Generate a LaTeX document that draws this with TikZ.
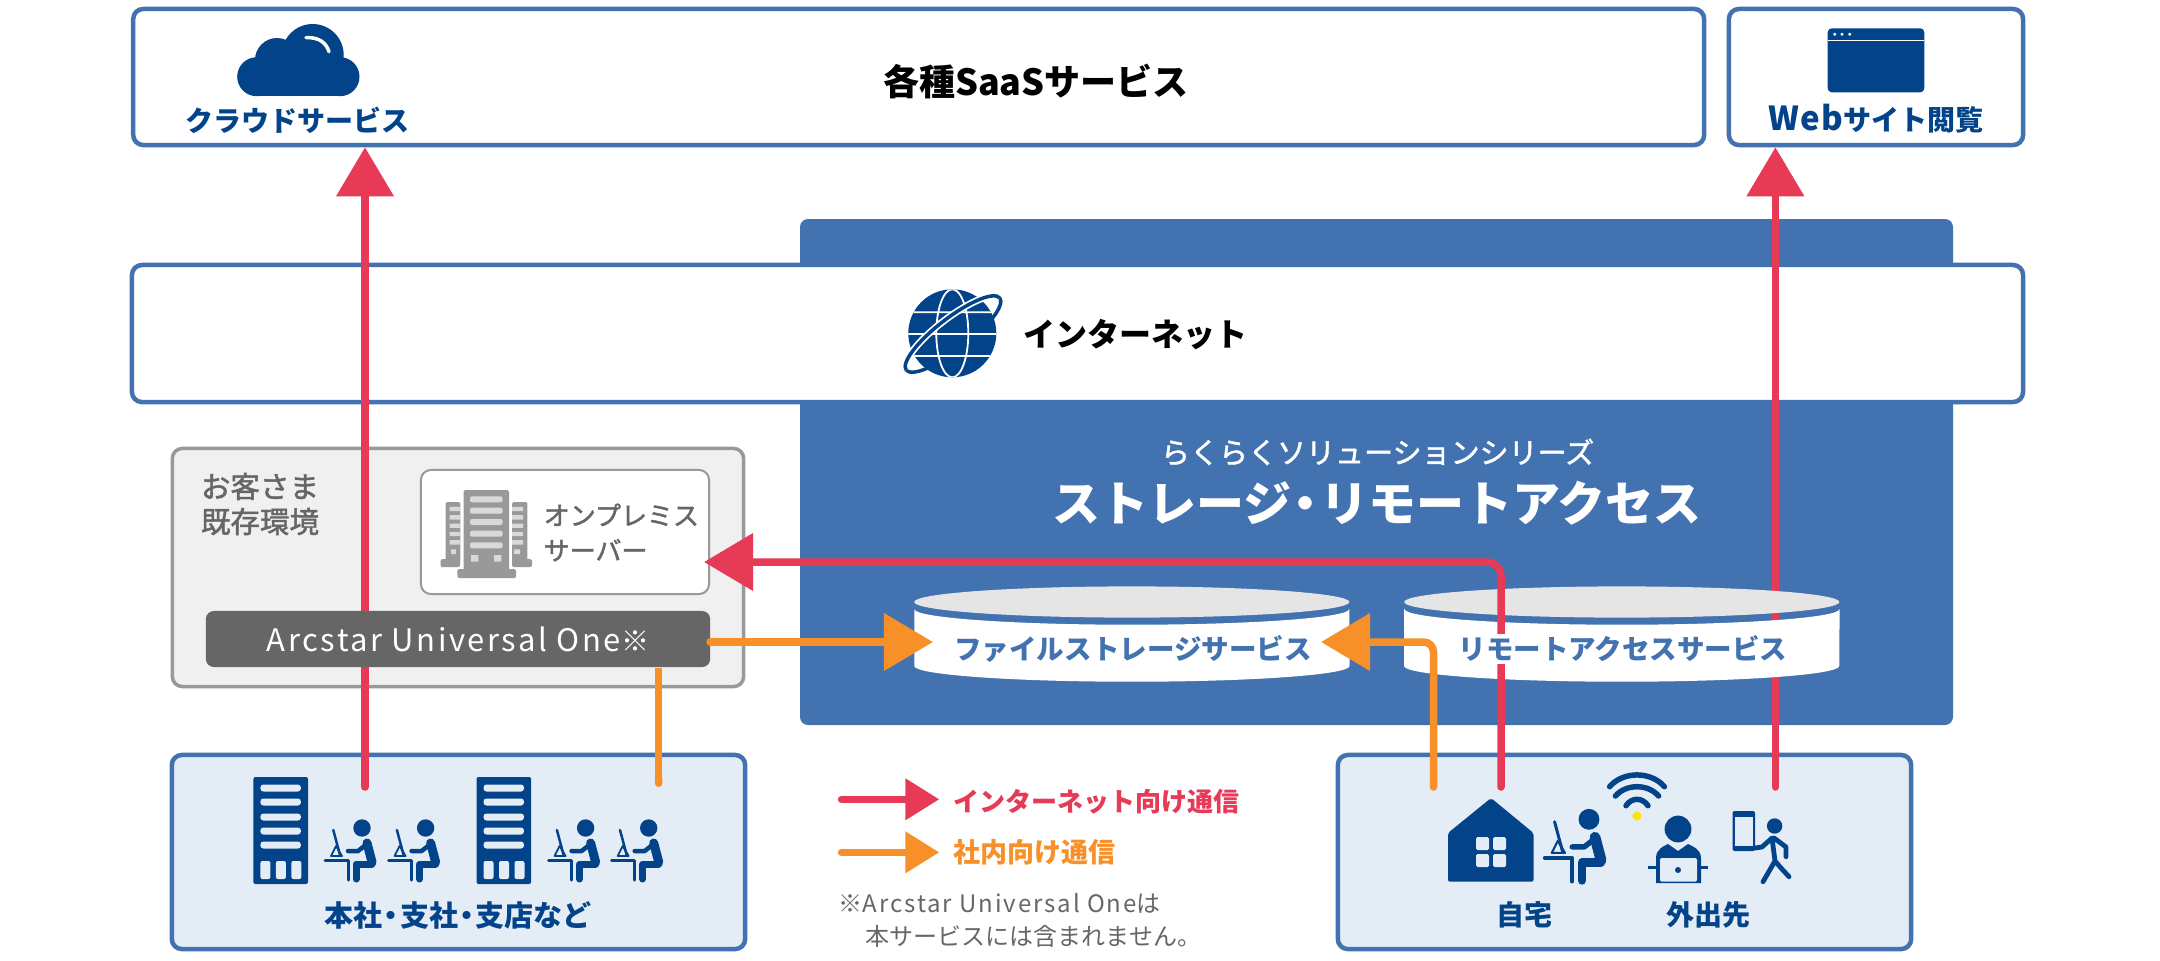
\documentclass[tikz,border=0pt]{standalone}
\usepackage{fontspec}
\usepackage{xcolor}
\usetikzlibrary{arrows.meta,positioning}
\setmainfont{Noto Sans CJK JP}
\newfontfamily\medfont[FakeBold=1.6]{Noto Sans CJK JP}
\definecolor{frameblue}{HTML}{4272AF}
\definecolor{iconnavy}{HTML}{03438A}
\definecolor{paleblue}{HTML}{E4ECF6}
\definecolor{netred}{HTML}{E63A57}
\definecolor{lanorange}{HTML}{F79028}
\definecolor{midgray}{HTML}{999999}
\definecolor{textgray}{HTML}{666666}
\newcommand{\pxfont}[1]{\fontsize{\fpeval{#1*0.2845}}{9.96}\selectfont}
\newcommand{\ndot}{\kern-.2em・\kern-.2em}
% person at a desk, head at #1,#2, size #3
\newcommand{\deskuser}[3]{%
\begin{scope}[shift={(#1,#2)},scale=#3,iconnavy,line cap=round,line join=round]
\fill (0,0) circle [radius=8.7];
\draw [line width=#3*0.09cm] (5,15) -- (10,34);
\draw [line width=#3*0.07cm] (10,36) -- (-6,36) -- (-6,51);
\draw [line width=#3*0.045cm] (5,16) -- (-4,23) -- (-14,23);
\draw [line width=#3*0.025cm] (-28.7,2) -- (-22,27);
\draw [line width=#3*0.018cm] (-26,18) -- (-31,28) -- (-20,28) -- cycle;
\draw [line width=#3*0.03cm] (-37,32) -- (-14,32) -- (-14,52);
\end{scope}}
% rack with drawers, left edge at #1
\newcommand{\serverrack}[1]{%
\begin{scope}[shift={(#1,0)}]
\fill [iconnavy,rounded corners=0.02cm] (0,777) rectangle (54.6,884);
\foreach \y in {788,802,817,831,845}
\fill [paleblue,rounded corners=0.03cm] (7,\y-3.5) rectangle (47.5,\y+3.5);
\foreach \x in {7,22.5,38}
\fill [paleblue,rounded corners=0.02cm] (\x,861) rectangle (\x+10,879);
\end{scope}}
% storage cylinder between #1 and #2
\newcommand{\storagecyl}[2]{%
\fill [white] (#1,609) -- (#1,666) arc [start angle=180,end angle=360,x radius=2.175cm,y radius=0.157cm]
-- (#2,609) arc [start angle=360,end angle=180,x radius=2.175cm,y radius=0.157cm] -- cycle;
\fill [black!10] ({(#1+#2)/2},602) ellipse [x radius=2.175cm,y radius=0.156cm];}
\tikzset{
bluebox/.style={draw=frameblue,line width=0.045cm,fill=white,rounded corners=0.1cm,inner sep=0pt},
homebox/.style={bluebox,fill=paleblue,minimum width=5.73cm,minimum height=1.94cm},
titletext/.style={font=\pxfont{28}\bfseries,text=iconnavy},
redline/.style={netred,line width=0.075cm,line cap=round,-{Triangle[length=0.49cm,width=0.56cm]}},
orangeline/.style={lanorange,line width=0.075cm,line cap=round,-{Triangle[length=0.49cm,width=0.56cm]}},
}
\begin{document}
\begin{tikzpicture}[x=0.01cm,y=-0.01cm,node distance=0.35cm]
\useasboundingbox (0,0) rectangle (2160,960);
% top row
\node [bluebox,minimum width=15.7cm,minimum height=1.36cm] (cloudbox) at (918.7,77) {};
\node [bluebox,minimum width=2.94cm,minimum height=1.36cm] (webbox) at (1876,77) {};
\node [font=\pxfont{36}\bfseries] (saas) at (1036,81) {各種SaaSサービス};
\fill [iconnavy] (312.7,55) circle [radius=31] (277,60) circle [radius=22] (256.7,76.7) circle [radius=19.5] (340,76.7) circle [radius=19.5];
\fill [iconnavy] (256.7,70) rectangle (340,96.2);
\draw [white,line width=0.035cm,line cap=round] (306,37.7) .. controls (318,37) and (326,42) .. (329,51.7);
\node [titletext] (cloudtext) at (297.5,120) {クラウドサービス};
\fill [iconnavy,rounded corners=0.04cm] (1827.7,28.3) rectangle (1924.3,92.3);
\draw [white,line width=0.015cm] (1827.7,40.3) -- (1924.3,40.3);
\fill [white] (1834.7,34.3) circle [radius=1.6] (1842,34.3) circle [radius=1.6] (1849.7,34.3) circle [radius=1.6];
\node [titletext] (webtext) at (1876,119) {{\pxfont{33}\addfontfeature{LetterSpace=3}Web}サイト閲覧};
% service block and internet band
\fill [frameblue,rounded corners=0.08cm] (800,219) rectangle (1953,725);
\node [bluebox,minimum width=18.9cm,minimum height=1.37cm] (netband) at (1077.5,333.5) {};
% customer side
\node [draw=midgray,line width=0.035cm,fill=black!6,rounded corners=0.1cm,minimum width=5.71cm,minimum height=2.38cm,inner sep=0pt] (existing) at (458,567.5) {};
\node [draw=midgray,line width=0.02cm,fill=white,rounded corners=0.1cm,minimum width=2.88cm,minimum height=1.24cm,inner sep=0pt] (onprem) at (565,532) {};
\node [homebox] (hqbox) at (458.5,852) {};
\node [homebox] (homebox) at (1624.5,852) {};
\coordinate (hqred) at (365,787);
\coordinate (hqorg) at (658.6,787);
\coordinate (homeorg) at (1433.5,787);
\coordinate (homered) at (1501,787);
\coordinate (outred) at (1775.4,787);
\path (hqred) edge [redline] (hqred |- cloudbox.south);
\path (outred) edge [redline] (outred |- webbox.south);
% internet icon
\begin{scope}[rotate around={37.6:(953,334)}]
\draw [iconnavy,line width=0.035cm] (953,334) ellipse [x radius=0.59cm,y radius=0.16cm];
\end{scope}
\fill [iconnavy] (952.3,333.3) circle [radius=44];
\begin{scope}
\clip (952.3,333.3) circle [radius=44];
\draw [white,line width=0.018cm] (900,312.3) -- (1000,312.3) (900,334) -- (1000,334) (900,356) -- (1000,356) (952.3,333.3) ellipse [x radius=0.16cm,y radius=0.44cm];
\end{scope}
\begin{scope}[rotate around={37.6:(953,334)}]
\draw [white,line width=0.07cm] (1012,334) arc [start angle=0,end angle=180,x radius=0.59cm,y radius=0.16cm];
\draw [iconnavy,line width=0.035cm] (1012,334) arc [start angle=0,end angle=180,x radius=0.59cm,y radius=0.16cm];
\end{scope}
\node [font=\pxfont{32}\bfseries] (nettext) at (1135.5,335) {インターネット};
% service titles
\node [white,font=\pxfont{29}\medfont] (series) at (1377.6,452) {らくらくソリューションシリーズ};
\node [white,font=\pxfont{48}\bfseries] (remote) at (1377,503) {ストレージ\ndot リモートアクセス};
% customer labels
\node [textgray,font=\pxfont{29.5}\medfont,align=center] (custtext) at (260,504) {お客さま\\既存環境};
\fill [midgray,rounded corners=0.015cm] (445.5,502) rectangle (460.4,562) (512,502) rectangle (527.4,562) (440.5,559) rectangle (460,567) (512,559) rectangle (532,567);
\fill [midgray,rounded corners=0.015cm] (463.5,490) rectangle (509,572) (457.4,569) rectangle (516,578);
\foreach \y in {499.3,510.7,522,533.7,545.3}
\fill [black!15,rounded corners=0.02cm] (470,\y-3) rectangle (502.5,\y+3);
\foreach \y in {509,517.3,525.7,534,542.3}
\fill [black!15] (449.7,\y-2.2) rectangle (460.4,\y+2.2) (512,\y-2.2) rectangle (523,\y+2.2);
\fill [black!15] (471,555) rectangle (478.4,561.7) (494,555) rectangle (501.4,561.7) (451,549.3) rectangle (456,554) (514,549.3) rectangle (520,554);
\node [textgray,font=\pxfont{26}\medfont,align=left,anchor=west,inner sep=0pt] (onpremtext) at (543,532.5) {オンプレミス\\サーバー};
\node [fill=textgray,text=white,font=\pxfont{28},rounded corners=0.08cm,minimum width=5.04cm,minimum height=0.56cm,inner sep=0pt] (arcstar) at (458,639) {{\pxfont{31}\addfontfeature{LetterSpace=8}Arcstar Universal One}※};
% storage
\storagecyl{914.3}{1349.3}
\storagecyl{1404}{1839.6}
\coordinate (onpremtip) at (704,562);
\draw [netred,line width=0.075cm,line cap=round,rounded corners=0.14cm,-{Triangle[length=0.49cm,width=0.56cm]}] (homered) -- (homered |- onpremtip) -- (onpremtip);
\node [fill=white,text=frameblue,font=\pxfont{27.5}\bfseries,inner sep=0.02cm] (filetext) at (1133,649) {ファイルストレージサービス};
\node [fill=white,text=frameblue,font=\pxfont{27.5}\bfseries,inner sep=0.02cm] (remotetext) at (1623,649) {リモートアクセスサービス};
\coordinate (barout) at (710,642);
\coordinate (filetip) at (933,642);
\coordinate (filetipb) at (1321,642);
\path (barout) edge [orangeline] (filetip);
\draw [orangeline,rounded corners=0.1cm] (homeorg) -- (homeorg |- filetipb) -- (filetipb);
\draw [lanorange,line width=0.075cm,{Round Cap[]}-] (hqorg) -- (hqorg |- arcstar.south);
% branch office
\serverrack{253.4}
\serverrack{476.5}
\deskuser{362}{828}{1}
\deskuser{425.6}{828}{1}
\deskuser{585.6}{828}{1}
\deskuser{648.7}{828}{1}
\node [text=iconnavy,font=\pxfont{29}\bfseries] (hqtext) at (458,915) {本社\ndot 支社\ndot 支店など};
% home and mobile
\fill [iconnavy,rounded corners=0.02cm] (1491,798) -- (1533.5,833) -- (1533.5,881.7) -- (1448,881.7) -- (1448,833) -- cycle;
\foreach \x in {1476,1493}
\foreach \y in {837,854}
\fill [paleblue,rounded corners=0.015cm] (\x,\y) rectangle (\x+13,\y+13);
\deskuser{1589}{819.3}{1.2}
\draw [iconnavy,line width=0.055cm,line cap=round] (1626,805.7) .. controls (1631.5,797.2) and (1642.5,797.2) .. (1648,805.7) (1615.4,796) .. controls (1626,783.6) and (1648,783.6) .. (1658.6,796) (1609.6,786.7) .. controls (1623,771) and (1651,771) .. (1664.4,786.7);
\fill [yellow!85!orange] (1637,816) circle [radius=4.5];
\fill [iconnavy] (1678,829) circle [radius=13.4];
\fill [iconnavy] (1656,883) -- (1656,858) .. controls (1656,849) and (1664,846) .. (1668,844) -- (1678,851) -- (1688,844) .. controls (1692,846) and (1701,849) .. (1701,858) -- (1701,883) -- cycle;
\draw [iconnavy,line width=0.032cm] (1648,867.7) -- (1708,867.7);
\fill [paleblue,rounded corners=0.02cm] (1660,858) rectangle (1697,881.7);
\fill [iconnavy] (1678,870) circle [radius=3];
\fill [iconnavy,rounded corners=0.02cm] (1732.5,811) rectangle (1755,851);
\fill [paleblue] (1735.3,817) rectangle (1752.5,846);
\fill [iconnavy] (1774.6,826) circle [radius=7.7];
\draw [iconnavy,line width=0.048cm,line cap=round,line join=round] (1755,848) -- (1762,847) -- (1772,838) -- (1775,861) -- (1763,881.7) (1775,861) -- (1781,868) -- (1789,876.7) (1774,838) -- (1786,847) -- (1786,856.7);
\node [text=iconnavy,font=\pxfont{28}\bfseries] (hometext) at (1524,915) {自宅};
\node [text=iconnavy,font=\pxfont{28}\bfseries] (awaytext) at (1708.4,915) {外出先};
% legend
\coordinate (legreda) at (841.5,799.3);
\coordinate (legredb) at (939.3,799.3);
\coordinate (legorga) at (841.5,852.3);
\coordinate (legorgb) at (939.3,852.3);
\path (legreda) edge [redline,-{Triangle[length=0.34cm,width=0.4cm]}] (legredb);
\path (legorga) edge [orangeline,-{Triangle[length=0.34cm,width=0.4cm]}] (legorgb);
\node [text=netred,font=\pxfont{26}\bfseries,anchor=west,inner sep=0pt] (legredtext) at (953,801.7) {インターネット向け通信};
\node [text=lanorange,font=\pxfont{27}\bfseries,anchor=west,inner sep=0pt] (legorgtext) at (953,852.3) {社内向け通信};
\node [textgray,font=\pxfont{24},anchor=west,inner sep=0pt] (notea) at (838,903.3) {※{\addfontfeature{LetterSpace=8}Arcstar Universal One}は};
\node [textgray,font=\pxfont{24},anchor=west,inner sep=0pt] (noteb) at (865,936.7) {本サービスには含まれません。};
\end{tikzpicture}
\end{document}
